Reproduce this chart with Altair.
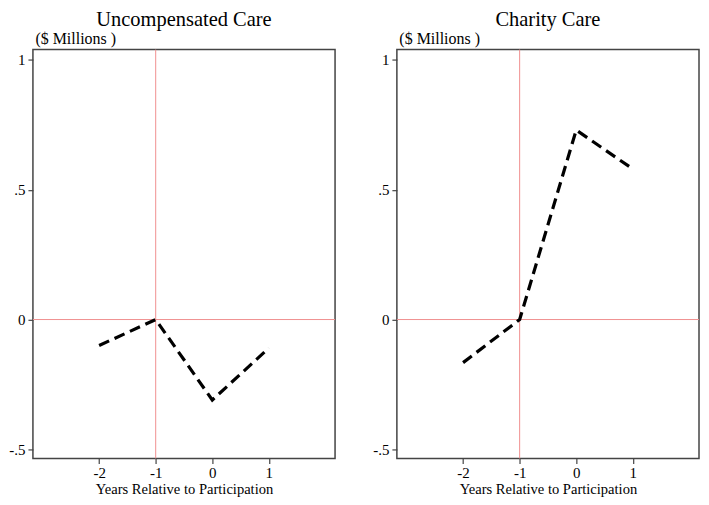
import altair as alt
import pandas as pd

years = [-2, -1, 0, 1]
uncomp = [-0.10, 0.0, -0.31, -0.11]
charity = [-0.166, 0.0, 0.73, 0.58]
titles = ["Uncompensated Care", "Charity Care"]
y_ticks = [-0.5, 0, 0.5, 1]
y_tick_labels = ["-.5", "0", ".5", "1"]
x_ticks = [-2, -1, 0, 1]
ref_x = [-1]
ref_y = [0]

FONT = "Liberation Serif"
REF_COLOR = "#f09090"
label_expr = " : ".join(
    f"datum.value == {v} ? '{l}'" for v, l in zip(y_ticks, y_tick_labels)
) + " : ''"

W, H = 303, 410


def panel(values, title):
    df = pd.DataFrame({"year": years, "value": values})
    xs = alt.Scale(domain=[-3.17, 2.17], nice=False, zero=False)
    ys = alt.Scale(domain=[-0.535, 1.04], nice=False, zero=False)
    xaxis = alt.Axis(values=x_ticks, title="Years Relative to Participation", grid=False,
                     domain=False, tickSize=5, tickColor="#444", tickWidth=1.2,
                     labelFontSize=15, labelFont=FONT, labelColor="black", labelPadding=2,
                     labelExpr="'' + datum.value",
                     titleFontSize=14.6, titleFont=FONT, titleColor="black",
                     titleFontWeight="normal", titlePadding=1)
    yaxis = alt.Axis(values=y_ticks, title="($ Millions )", grid=False, domain=False,
                     tickSize=5, tickColor="#444", tickWidth=1.2,
                     labelFontSize=15, labelFont=FONT, labelColor="black", labelPadding=3,
                     labelExpr=label_expr,
                     titleAngle=0, titleAlign="left", titleBaseline="alphabetic",
                     titleX=2, titleY=-6, titleFontSize=16, titleFont=FONT,
                     titleColor="black", titleFontWeight="normal")
    line = alt.Chart(df).mark_line(color="black", strokeWidth=3.2, strokeDash=[11, 6],
                                   strokeCap="butt").encode(
        x=alt.X("year:Q", scale=xs, axis=xaxis),
        y=alt.Y("value:Q", scale=ys, axis=yaxis),
    )
    vref = alt.Chart(pd.DataFrame({"x": ref_x})).mark_rule(color=REF_COLOR, strokeWidth=1).encode(
        x=alt.X("x:Q", scale=xs)
    )
    href = alt.Chart(pd.DataFrame({"y": ref_y})).mark_rule(color=REF_COLOR, strokeWidth=1).encode(
        y=alt.Y("y:Q", scale=ys)
    )
    return alt.layer(vref, href, line).properties(
        width=W, height=H,
        title=alt.TitleParams(title, fontSize=20.5, font=FONT, fontWeight="normal",
                              color="black", anchor="middle", offset=0),
    )


chart = alt.hconcat(panel(uncomp, titles[0]), panel(charity, titles[1]), spacing=35).properties(
    padding=0
).configure_view(stroke="#444", strokeWidth=1.5)

chart.save("out.html", embed_options={"renderer": "svg", "actions": False})
